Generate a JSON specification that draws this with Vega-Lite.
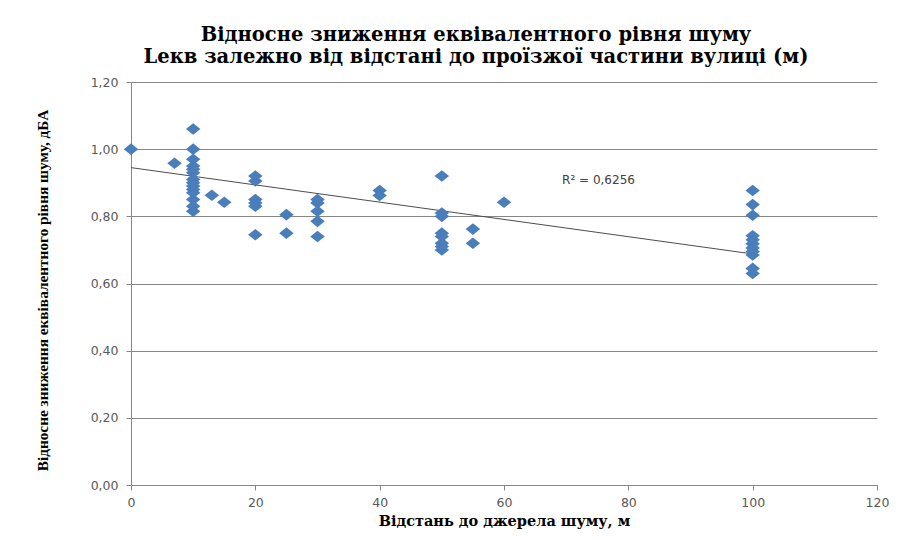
{
  "$schema": "https://vega.github.io/schema/vega-lite/v6.json",
  "width": 746,
  "height": 403,
  "autosize": {"type": "none"},
  "padding": {"left": 131, "top": 82, "right": 22, "bottom": 55},
  "background": "white",
  "title": {
    "text": ["Відносне зниження еквівалентного рівня шуму", "Lекв залежно від відстані до проїзжої частини вулиці (м)"],
    "font": "DejaVu Serif",
    "fontSize": 19.5,
    "fontWeight": "bold",
    "color": "#000000",
    "lineHeight": 22,
    "anchor": "middle",
    "frame": "group",
    "dx": -28,
    "offset": 9
  },
  "config": {
    "view": {"stroke": null},
    "axis": {
      "labelFont": "DejaVu Sans",
      "labelFontSize": 12.5,
      "labelColor": "#595959",
      "titleFont": "Liberation Serif",
      "titleFontWeight": "bold",
      "titleColor": "#000000",
      "domainColor": "#868686",
      "tickColor": "#868686",
      "gridColor": "#868686"
    }
  },
  "datasets": {
    "points": [
      {"d": 0, "r": 1.0},
      {"d": 7, "r": 0.958},
      {"d": 10, "r": 1.06},
      {"d": 10, "r": 1.0},
      {"d": 10, "r": 0.97},
      {"d": 10, "r": 0.95},
      {"d": 10, "r": 0.94},
      {"d": 10, "r": 0.93},
      {"d": 10, "r": 0.91},
      {"d": 10, "r": 0.9},
      {"d": 10, "r": 0.89},
      {"d": 10, "r": 0.88},
      {"d": 10, "r": 0.87},
      {"d": 10, "r": 0.85},
      {"d": 10, "r": 0.83},
      {"d": 10, "r": 0.815},
      {"d": 13, "r": 0.863},
      {"d": 15, "r": 0.842},
      {"d": 20, "r": 0.92},
      {"d": 20, "r": 0.905},
      {"d": 20, "r": 0.85},
      {"d": 20, "r": 0.84},
      {"d": 20, "r": 0.83},
      {"d": 20, "r": 0.745},
      {"d": 25, "r": 0.805},
      {"d": 25, "r": 0.75},
      {"d": 30, "r": 0.85},
      {"d": 30, "r": 0.84},
      {"d": 30, "r": 0.815},
      {"d": 30, "r": 0.785},
      {"d": 30, "r": 0.74},
      {"d": 40, "r": 0.877},
      {"d": 40, "r": 0.862},
      {"d": 50, "r": 0.92},
      {"d": 50, "r": 0.81},
      {"d": 50, "r": 0.80},
      {"d": 50, "r": 0.75},
      {"d": 50, "r": 0.74},
      {"d": 50, "r": 0.72},
      {"d": 50, "r": 0.71},
      {"d": 50, "r": 0.70},
      {"d": 55, "r": 0.762},
      {"d": 55, "r": 0.72},
      {"d": 60, "r": 0.842},
      {"d": 100, "r": 0.877},
      {"d": 100, "r": 0.835},
      {"d": 100, "r": 0.803},
      {"d": 100, "r": 0.742},
      {"d": 100, "r": 0.73},
      {"d": 100, "r": 0.718},
      {"d": 100, "r": 0.706},
      {"d": 100, "r": 0.695},
      {"d": 100, "r": 0.685},
      {"d": 100, "r": 0.645},
      {"d": 100, "r": 0.63}
    ],
    "trend": [
      {"d": 0, "r": 0.945},
      {"d": 100, "r": 0.688}
    ],
    "label": [
      {"d": 75.2, "r": 0.908, "t": "R² = 0,6256"}
    ]
  },
  "layer": [
    {
      "data": {"name": "trend"},
      "mark": {"type": "line", "color": "#4d4d4d", "strokeWidth": 1},
      "encoding": {
        "x": {
          "field": "d", "type": "quantitative",
          "scale": {"domain": [0, 120], "nice": false, "zero": false},
          "axis": {
            "title": "Відстань до джерела шуму, м",
            "titleFont": "DejaVu Serif",
            "titleFontSize": 14.5,
            "titlePadding": 6,
            "values": [0, 20, 40, 60, 80, 100, 120],
            "grid": false,
            "tickSize": 5,
            "labelPadding": 6,
            "labelFlush": false
          }
        },
        "y": {
          "field": "r", "type": "quantitative",
          "scale": {"domain": [0, 1.2], "nice": false, "zero": false},
          "axis": {
            "title": "Відносне зниження еквівалентного рівня шуму, дБА",
            "titleFontSize": 15.3,
            "titlePadding": 40,
            "titleY": 208,
            "values": [0, 0.2, 0.4, 0.6, 0.8, 1.0, 1.2],
            "labelExpr": "replace(format(datum.value, '.2f'), '.', ',')",
            "grid": true,
            "tickSize": 5,
            "labelPadding": 8,
            "labelFlush": false
          }
        }
      }
    },
    {
      "data": {"name": "points"},
      "mark": {
        "type": "point",
        "shape": "M-1,0L0,-0.8L1,0L0,0.8Z",
        "filled": true,
        "color": "#4a7ebb",
        "opacity": 1,
        "size": 210
      },
      "encoding": {
        "x": {"field": "d", "type": "quantitative"},
        "y": {"field": "r", "type": "quantitative"}
      }
    },
    {
      "data": {"name": "label"},
      "mark": {"type": "text", "font": "DejaVu Sans", "fontSize": 12, "color": "#404040", "align": "center", "baseline": "middle"},
      "encoding": {
        "x": {"field": "d", "type": "quantitative"},
        "y": {"field": "r", "type": "quantitative"},
        "text": {"field": "t"}
      }
    }
  ]
}
